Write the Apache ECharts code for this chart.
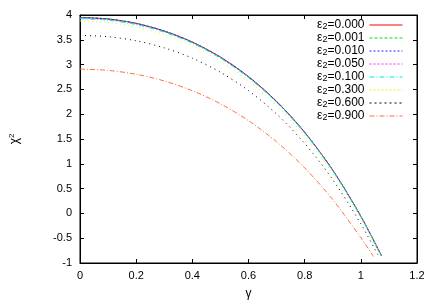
<!DOCTYPE html>
<html><head><meta charset="utf-8">
<script src="https://cdn.jsdelivr.net/npm/echarts@6/dist/echarts.min.js"></script>
<style>html,body{margin:0;padding:0;background:#fff}#c{width:436px;height:305px}</style>
</head><body><div id="c"></div>
<script>
// gamma grid shared by all curves; each curve has its own end point
const gammaGrid = [0, 0.1, 0.2, 0.3, 0.4, 0.5, 0.6, 0.7, 0.8, 0.9, 1.0];
const epsLabels = ['0.000', '0.001', '0.010', '0.050', '0.100', '0.300', '0.600', '0.900'];
const gammaEnd = [1.073, 1.073, 1.073, 1.072, 1.072, 1.07, 1.06, 1.045];
const chiEps000 = [3.950, 3.921, 3.832, 3.678, 3.455, 3.152, 2.758, 2.259, 1.637, 0.873, -0.055, -0.85];
const chiEps001 = [3.950, 3.921, 3.831, 3.677, 3.454, 3.151, 2.757, 2.258, 1.636, 0.872, -0.056, -0.85];
const chiEps010 = [3.947, 3.918, 3.829, 3.675, 3.452, 3.149, 2.755, 2.256, 1.634, 0.870, -0.058, -0.85];
const chiEps050 = [3.937, 3.908, 3.819, 3.665, 3.442, 3.140, 2.746, 2.248, 1.627, 0.864, -0.062, -0.85];
const chiEps100 = [3.925, 3.896, 3.807, 3.654, 3.431, 3.129, 2.736, 2.238, 1.618, 0.856, -0.068, -0.85];
const chiEps300 = [3.880, 3.850, 3.759, 3.603, 3.376, 3.070, 2.674, 2.175, 1.557, 0.802, -0.110, -0.85];
const chiEps600 = [3.590, 3.563, 3.480, 3.338, 3.130, 2.846, 2.475, 2.003, 1.411, 0.681, -0.210, -0.83];
const chiEps900 = [2.910, 2.884, 2.805, 2.670, 2.474, 2.210, 1.870, 1.444, 0.918, 0.279, -0.490, -0.87];
const xTicks = [0, 0.2, 0.4, 0.6, 0.8, 1, 1.2];
const yTicks = [-1, -0.5, 0, 0.5, 1, 1.5, 2, 2.5, 3, 3.5, 4];

const allChi = [chiEps000, chiEps001, chiEps010, chiEps050, chiEps100, chiEps300, chiEps600, chiEps900];
const colors = ['#ff0000', '#00e000', '#2020ff', '#ff20ff', '#00e8e8', '#f0f000', '#000000', '#ff7040'];
const types = ['solid', [3, 2], [2, 2], [1, 2], [5, 2, 1, 2], [1, 3], [1, 4], [5, 2, 1, 2]];
const legendTypes = ['solid', [3, 2], [2, 2], [2, 2], [5, 2, 1, 2], [2, 2], [2, 3], [5, 2, 1, 2]];

const series = allChi.map((arr, i) => {
  const data = [];
  for (let k = 0; k < gammaGrid.length; k++) data.push([gammaGrid[k], arr[k]]);
  data.push([gammaEnd[i], arr[arr.length - 1]]);
  return {
    name: 'ε2=' + epsLabels[i], type: 'line', data: data, smooth: 0.3,
    symbol: 'none', showSymbol: false, lineStyle: {color: colors[i], width: 1, type: types[i]},
    itemStyle: {color: colors[i]}, animation: false, z: 2 + i
  };
});

const font = 'Liberation Sans, Arial, sans-serif';
const chart = echarts.init(document.getElementById('c'), null, {renderer: 'canvas'});
const axCommon = {
  axisLine: {show: true, onZero: false, lineStyle: {color: '#000', width: 1}},
  axisTick: {show: true, inside: true, length: 4, lineStyle: {color: '#000'}},
  splitLine: {show: false}
};
chart.setOption({
  animation: false,
  textStyle: {fontFamily: font},
  grid: {left: 74, right: 19, top: 15, bottom: 39, show: true, borderColor: '#000', borderWidth: 1},
  legend: {
    orient: 'vertical', right: 33, top: 18.5, align: 'right', padding: 0,
    itemWidth: 33, itemHeight: 12, itemGap: 0,
    itemStyle: {opacity: 0},
    data: series.map((s, i) => ({name: s.name,
      lineStyle: {width: 1, color: colors[i], type: legendTypes[i], opacity: 1}})),
    formatter: n => '{a|ε}{s|2}{a|' + n.slice(2) + '}',
    textStyle: {fontFamily: font, color: '#000', padding: [0, 0, 0, 0], lineHeight: 12,
      rich: {a: {fontSize: 12, lineHeight: 12, fontFamily: font, color: '#000'},
             s: {fontSize: 9, lineHeight: 8, fontFamily: font, color: '#000', padding: [4, 0, 0, 0]}}}
  },
  xAxis: [
    Object.assign({type: 'value', min: 0, max: 1.2, interval: 0.2, position: 'bottom',
      name: 'γ', nameLocation: 'middle', nameGap: 25,
      nameTextStyle: {fontSize: 12, color: '#000', fontFamily: font},
      axisLabel: {fontSize: 11, color: '#000', margin: 7, fontFamily: font,
        formatter: v => xTicks.includes(Math.round(v * 10) / 10) ? String(Math.round(v * 10) / 10) : ''}}, axCommon),
    Object.assign({type: 'value', min: 0, max: 1.2, interval: 0.2, position: 'top',
      axisLabel: {show: false}}, axCommon)
  ],
  yAxis: [
    Object.assign({type: 'value', min: -1, max: 4, interval: 0.5, position: 'left',
      name: '{a|χ}{s|2}', nameLocation: 'middle', nameGap: 58, nameRotate: 90,
      nameTextStyle: {color: '#000', fontFamily: font,
        rich: {a: {fontSize: 12, fontFamily: font}, s: {fontSize: 8, fontFamily: font, padding: [0, 0, 6, 0]}}},
      axisLabel: {fontSize: 11, color: '#000', margin: 8, fontFamily: font,
        formatter: v => { const r = Math.round(v * 10) / 10; return yTicks.includes(r) ? String(r) : ''; }}}, axCommon),
    Object.assign({type: 'value', min: -1, max: 4, interval: 0.5, position: 'right',
      axisLabel: {show: false}}, axCommon)
  ],
  series: series
});
</script></body></html>
